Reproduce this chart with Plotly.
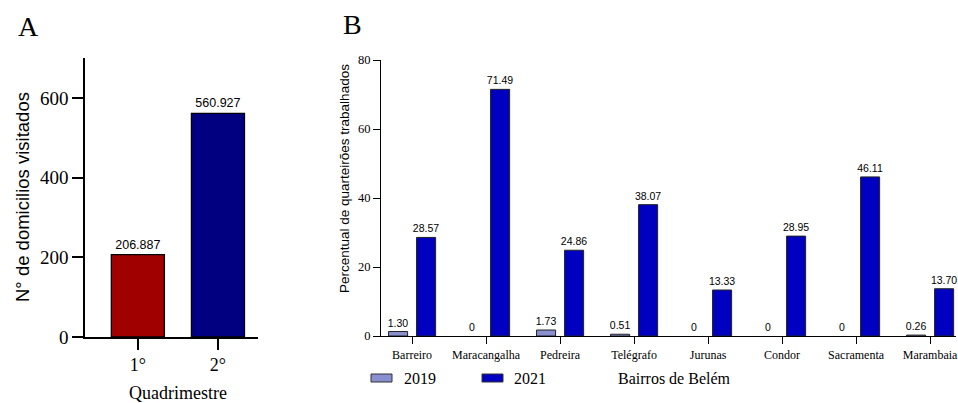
import plotly.graph_objects as go

W, H = 958, 403

# Panel A: households visited per four-month period
quad_labels = ["1°", "2°"]
quad_values = [206.887, 560.927]
quad_colors = ["#A00000", "#000080"]

# Panel B: percentage of blocks worked per neighbourhood
bairros = ["Barreiro", "Maracangalha", "Pedreira", "Telégrafo",
           "Jurunas", "Condor", "Sacramenta", "Marambaia"]
pct_2019 = [1.30, 0, 1.73, 0.51, 0, 0, 0, 0.26]
pct_2021 = [28.57, 71.49, 24.86, 38.07, 13.33, 28.95, 46.11, 13.70]

col_2019 = "#8890D0"
col_2021 = "#0000C0"

SERIF = "Liberation Serif, Times New Roman, serif"
SANS = "Liberation Sans, Arial, sans-serif"


def fmt_pct(v):
    return "0" if v == 0 else f"{v:.2f}"


def px(x):
    return x / W


def py(y):
    return 1 - y / H


fig = go.Figure()

fig.add_trace(go.Bar(
    x=quad_labels, y=quad_values, xaxis="x", yaxis="y",
    width=0.6625,
    marker=dict(color=quad_colors, line=dict(color="black", width=1.3)),
    text=[f"{v:.3f}" for v in quad_values], textposition="outside",
    constraintext="none", cliponaxis=False,
    textfont=dict(family=SANS, size=12.5, color="black"),
    showlegend=False,
))

for name, vals, col in [("2019", pct_2019, col_2019), ("2021", pct_2021, col_2021)]:
    fig.add_trace(go.Bar(
        name=name, x=bairros, y=vals, xaxis="x2", yaxis="y2",
        marker=dict(color=col,
                    line=dict(color="#222222",
                              width=[0 if v == 0 else 1 for v in vals])),
        text=[fmt_pct(v) for v in vals], textposition="outside",
        constraintext="none", cliponaxis=False,
        textfont=dict(family=SANS, size=10.5, color="black"),
        showlegend=False,
    ))

axis_common = dict(showgrid=False, zeroline=False, showline=True, automargin=False,
                   linecolor="black", ticks="outside", tickcolor="black")

fig.update_layout(
    template="none",
    width=W, height=H, autosize=False,
    margin=dict(l=0, r=0, t=0, b=0, pad=0),
    showlegend=False,
    paper_bgcolor="white", plot_bgcolor="white",
    barmode="group", bargap=0.243, bargroupgap=0.32,
    xaxis=dict(**axis_common, domain=[px(85), px(258)], anchor="y",
               range=[-0.66, 1.5], linewidth=1.6, ticklen=11, tickwidth=1.6,
               tickfont=dict(family=SERIF, size=18, color="black")),
    yaxis=dict(**axis_common, domain=[py(337), py(58)], anchor="x",
               range=[0, 700], tickvals=[0, 200, 400, 600],
               linewidth=1.6, ticklen=11, tickwidth=1.6,
               tickfont=dict(family=SERIF, size=19, color="black")),
    xaxis2=dict(**axis_common, domain=[px(381), px(956)], anchor="y2",
                range=[-0.42, 7.35], linewidth=1.2, ticklen=7, tickwidth=1.2,
                tickfont=dict(family=SERIF, size=12, color="black")),
    yaxis2=dict(**axis_common, domain=[py(336), py(60)], anchor="x2",
                range=[0, 80], tickvals=[0, 20, 40, 60, 80],
                linewidth=1.2, ticklen=7, tickwidth=1.2,
                tickfont=dict(family=SERIF, size=12.5, color="black")),
)

annotations = [
    dict(text="A", x=px(28), y=py(27), font=dict(family=SERIF, size=28)),
    dict(text="B", x=px(352), y=py(24), font=dict(family=SERIF, size=28)),
    dict(text="N° de domicilios visitados", x=px(22), y=py(197), textangle=-90,
         font=dict(family=SANS, size=18.5)),
    dict(text="Quadrimestre", x=px(178), y=py(393), font=dict(family=SERIF, size=18)),
    dict(text="Percentual de quarteirões trabalhados", x=px(344), y=py(179),
         textangle=-90, font=dict(family=SANS, size=13.5)),
    dict(text="2019", x=px(402), y=py(378), xanchor="left", font=dict(family=SERIF, size=16)),
    dict(text="2021", x=px(512), y=py(378), xanchor="left", font=dict(family=SERIF, size=16)),
    dict(text="Bairros de Belém", x=px(616), y=py(378), xanchor="left",
         font=dict(family=SERIF, size=16)),
]
for a in annotations:
    a.setdefault("xanchor", "center")
    a.update(xref="paper", yref="paper", yanchor="middle", showarrow=False)
    a["font"]["color"] = "black"
fig.update_layout(annotations=annotations)

# legend swatches drawn beside the series names
for x0, col in [(371, col_2019), (482, col_2021)]:
    fig.add_shape(type="rect", xref="paper", yref="paper",
                  x0=px(x0), x1=px(x0 + 21), y0=py(382), y1=py(374),
                  fillcolor=col, line=dict(color="#333333", width=1))

fig.write_html("out.html")
